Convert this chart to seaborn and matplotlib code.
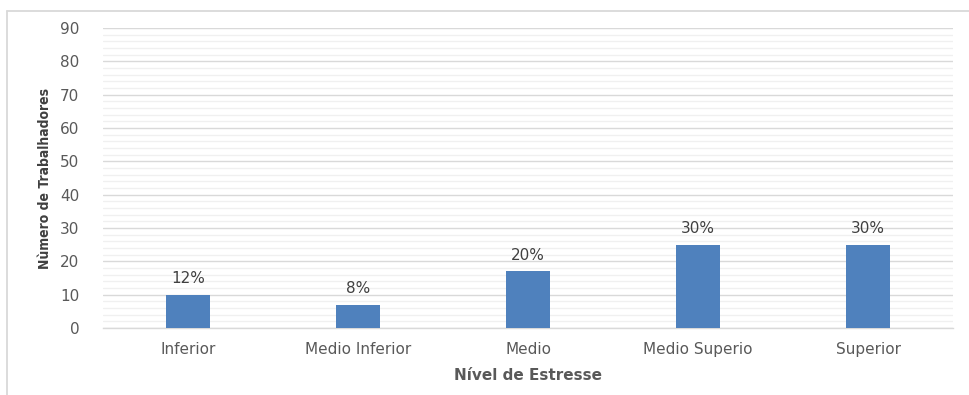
import matplotlib
matplotlib.use("Agg")
import matplotlib.pyplot as plt
from matplotlib.lines import Line2D
from matplotlib.ticker import MultipleLocator
import seaborn as sns
import pandas as pd

niveis = ["Inferior", "Medio Inferior", "Medio", "Medio Superio", "Superior"]
trabalhadores = [10, 7, 17, 25, 25]

total = sum(trabalhadores)
rotulos = [f"{round(100 * v / total)}%" for v in trabalhadores]

df = pd.DataFrame({"nivel": niveis, "n": trabalhadores})

sns.set_theme(style="white")
plt.rcParams["font.family"] = ["DejaVu Sans"]

fig = plt.figure(figsize=(9.69, 3.95), dpi=100)
ax = fig.add_axes([0.1063, 0.1696, 0.8772, 0.7595])

sns.barplot(data=df, x="nivel", y="n", color="#4F81BD", saturation=1,
            width=0.26, linewidth=0, ax=ax, zorder=3)

ax.set_ylim(0, 90)
ax.set_xlim(-0.5, len(niveis) - 0.5)
ax.yaxis.set_major_locator(MultipleLocator(10))
ax.yaxis.set_minor_locator(MultipleLocator(2))
ax.grid(which="major", axis="y", color="#D9D9D9", linewidth=1.0, zorder=0)
ax.grid(which="minor", axis="y", color="#F0F0F0", linewidth=1.0, zorder=0)
ax.set_axisbelow(True)

for side in ["top", "right", "left"]:
    ax.spines[side].set_visible(False)
ax.spines["bottom"].set_color("#D9D9D9")
ax.spines["bottom"].set_linewidth(1.0)

ax.tick_params(axis="y", which="both", length=0, pad=17, labelsize=11,
               labelcolor="#595959")
ax.tick_params(axis="x", length=0, pad=10, labelsize=11, labelcolor="#595959")

for i, (v, lab) in enumerate(zip(trabalhadores, rotulos)):
    ax.annotate(lab, (i, v), xytext=(0, 6), textcoords="offset points",
                ha="center", va="bottom", fontsize=11, color="#404040")

ax.set_xlabel("Nível de Estresse", fontsize=11, fontweight="bold",
              color="#595959", labelpad=8)
ax.set_ylabel("Nùmero de Trabalhadores", fontsize=10, fontweight="bold",
              color="#404040", labelpad=6, fontstretch="condensed")

# chart area border
fig.add_artist(Line2D([7 / 969, 1.0], [1 - 11 / 395, 1 - 11 / 395],
                      transform=fig.transFigure, color="#D9D9D9", linewidth=1.3))
fig.add_artist(Line2D([7 / 969, 7 / 969], [0.0, 1 - 11 / 395],
                      transform=fig.transFigure, color="#D9D9D9", linewidth=1.3))

fig.savefig("out.png", dpi=100, facecolor="white")
